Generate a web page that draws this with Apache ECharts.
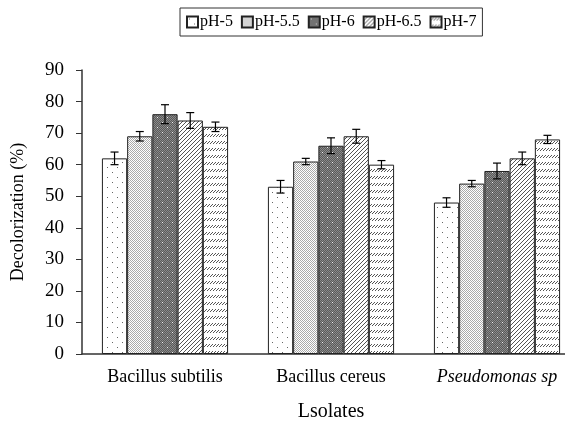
<!DOCTYPE html>
<html>
<head>
<meta charset="utf-8">
<script src="https://cdn.jsdelivr.net/npm/echarts@6/dist/echarts.min.js"></script>
<style>html,body{margin:0;padding:0;background:#fff}#main{width:565px;height:423px}</style>
</head>
<body>
<div id="main"></div>
<script>
var categories = ['Bacillus subtilis', 'Bacillus cereus', 'Pseudomonas sp'];
var seriesNames = ['pH-5', 'pH-5.5', 'pH-6', 'pH-6.5', 'pH-7'];
var ph5 = [62, 53, 48];
var ph55 = [69, 61, 54];
var ph6 = [76, 66, 58];
var ph65 = [74, 69, 62];
var ph7 = [72, 60, 68];
var err5 = [2, 2, 1.5];
var err55 = [1.5, 1, 1];
var err6 = [3, 2.5, 2.5];
var err65 = [2.5, 2.2, 2];
var err7 = [1.5, 1.3, 1.3];

var values = [ph5, ph55, ph6, ph65, ph7];
var errors = [err5, err55, err6, err65, err7];
var FONT = '"Liberation Serif", "Times New Roman", serif';
var GAP = 0.24;

// 填充图案
function makePattern(w, h, draw) {
    var c = document.createElement('canvas');
    c.width = w; c.height = h;
    var ctx = c.getContext('2d');
    draw(ctx);
    return { image: c, repeat: 'repeat' };
}
var patterns = [
    makePattern(10, 10, function (ctx) {
        ctx.fillStyle = '#fff'; ctx.fillRect(0, 0, 10, 10);
        ctx.fillStyle = '#666';
        ctx.fillRect(2, 2, 1, 1); ctx.fillRect(7, 7, 1, 1);
    }),
    makePattern(4, 4, function (ctx) {
        ctx.fillStyle = '#fff'; ctx.fillRect(0, 0, 4, 4);
        ctx.fillStyle = '#aaa';
        ctx.fillRect(0, 0, 1, 1); ctx.fillRect(2, 0, 1, 1);
        ctx.fillRect(1, 1, 1, 1); ctx.fillRect(3, 1, 1, 1);
        ctx.fillRect(0, 2, 1, 1); ctx.fillRect(2, 2, 1, 1);
        ctx.fillRect(1, 3, 1, 1); ctx.fillRect(3, 3, 1, 1);
    }),
    makePattern(10, 10, function (ctx) {
        for (var x = 0; x < 10; x++) {
            for (var y = 0; y < 10; y++) {
                ctx.fillStyle = (x + y) % 2 ? '#5a5a5a' : '#8a8a8a';
                ctx.fillRect(x, y, 1, 1);
            }
        }
        ctx.fillStyle = '#eee';
        ctx.fillRect(2, 2, 1, 1); ctx.fillRect(7, 7, 1, 1);
    }),
    makePattern(4, 4, function (ctx) {
        ctx.fillStyle = '#fff'; ctx.fillRect(0, 0, 4, 4);
        ctx.fillStyle = '#555';
        for (var i = 0; i < 4; i++) ctx.fillRect(3 - i, i, 1, 1);
    }),
    makePattern(6, 7, function (ctx) {
        ctx.fillStyle = '#fff'; ctx.fillRect(0, 0, 6, 7);
        ctx.fillStyle = '#555';
        ctx.fillRect(2, 1, 1, 1); ctx.fillRect(1, 2, 1, 1); ctx.fillRect(0, 3, 1, 1);
        ctx.fillRect(5, 1, 1, 1); ctx.fillRect(4, 2, 1, 1); ctx.fillRect(3, 3, 1, 1);
    })
];

var myChart = echarts.init(document.getElementById('main'));

var series = seriesNames.map(function (name, i) {
    return {
        name: name,
        type: 'bar',
        barGap: 0,
        barCategoryGap: (GAP * 100) + '%',
        itemStyle: {
            color: patterns[i],
            borderColor: '#222',
            borderWidth: 1
        },
        emphasis: { disabled: true },
        data: values[i]
    };
});

// 误差线
var errData = [];
for (var s = 0; s < values.length; s++) {
    for (var c = 0; c < categories.length; c++) {
        errData.push([c, values[s][c] - errors[s][c], values[s][c] + errors[s][c], s]);
    }
}
series.push({
    type: 'custom',
    name: 'err',
    silent: true,
    z: 10,
    renderItem: function (params, api) {
        var cat = api.value(0);
        var s = api.value(3);
        var catW = api.size([1, 0])[0];
        var groupW = catW * (1 - GAP);
        var barW = groupW / seriesNames.length;
        var center = api.coord([cat, 0])[0];
        var x = center - groupW / 2 + (s + 0.5) * barW;
        var lo = api.coord([cat, api.value(1)])[1];
        var hi = api.coord([cat, api.value(2)])[1];
        var cap = 4;
        var st = { stroke: '#000', lineWidth: 1.2 };
        return {
            type: 'group',
            children: [
                { type: 'line', shape: { x1: x, y1: lo, x2: x, y2: hi }, style: st },
                { type: 'line', shape: { x1: x - cap, y1: lo, x2: x + cap, y2: lo }, style: st },
                { type: 'line', shape: { x1: x - cap, y1: hi, x2: x + cap, y2: hi }, style: st }
            ]
        };
    },
    encode: { x: 0, y: [1, 2] },
    data: errData
});

var option = {
    animation: false,
    legend: {
        data: seriesNames.map(function (n) { return { name: n, icon: 'rect' }; }),
        top: 8,
        left: 180,
        borderColor: '#333',
        borderWidth: 1,
        padding: [6, 6, 6, 6],
        itemWidth: 11,
        itemHeight: 11,
        itemGap: 8,
        textStyle: { fontFamily: FONT, fontSize: 16, color: '#000', padding: [0, 0, 0, -3] }
    },
    grid: { left: 82, width: 498, top: 70, bottom: 69, containLabel: false, outerBoundsMode: 'none' },
    xAxis: {
        type: 'category',
        data: categories.map(function (v, i) {
            return i === 2 ? { value: v, textStyle: { fontStyle: 'italic' } } : v;
        }),
        name: 'Lsolates',
        nameLocation: 'middle',
        nameGap: 48,
        nameTextStyle: { fontFamily: FONT, fontSize: 20, color: '#000' },
        axisLine: { lineStyle: { color: '#333', width: 1.5 } },
        axisTick: { length: 6, lineStyle: { color: '#333' } },
        axisLabel: { fontFamily: FONT, fontSize: 18, color: '#000', margin: 14 }
    },
    yAxis: {
        type: 'value',
        min: 0,
        max: 90,
        interval: 10,
        name: 'Decolorization (%)',
        nameLocation: 'middle',
        nameGap: 55,
        nameTextStyle: { fontFamily: FONT, fontSize: 18, color: '#000' },
        axisLine: { show: true, lineStyle: { color: '#333', width: 1.5 } },
        axisTick: { show: true, length: 6, lineStyle: { color: '#333' } },
        splitLine: { show: false },
        axisLabel: { fontFamily: FONT, fontSize: 19, color: '#000', margin: 18 }
    },
    series: series
};

myChart.setOption(option);
</script>
</body>
</html>
